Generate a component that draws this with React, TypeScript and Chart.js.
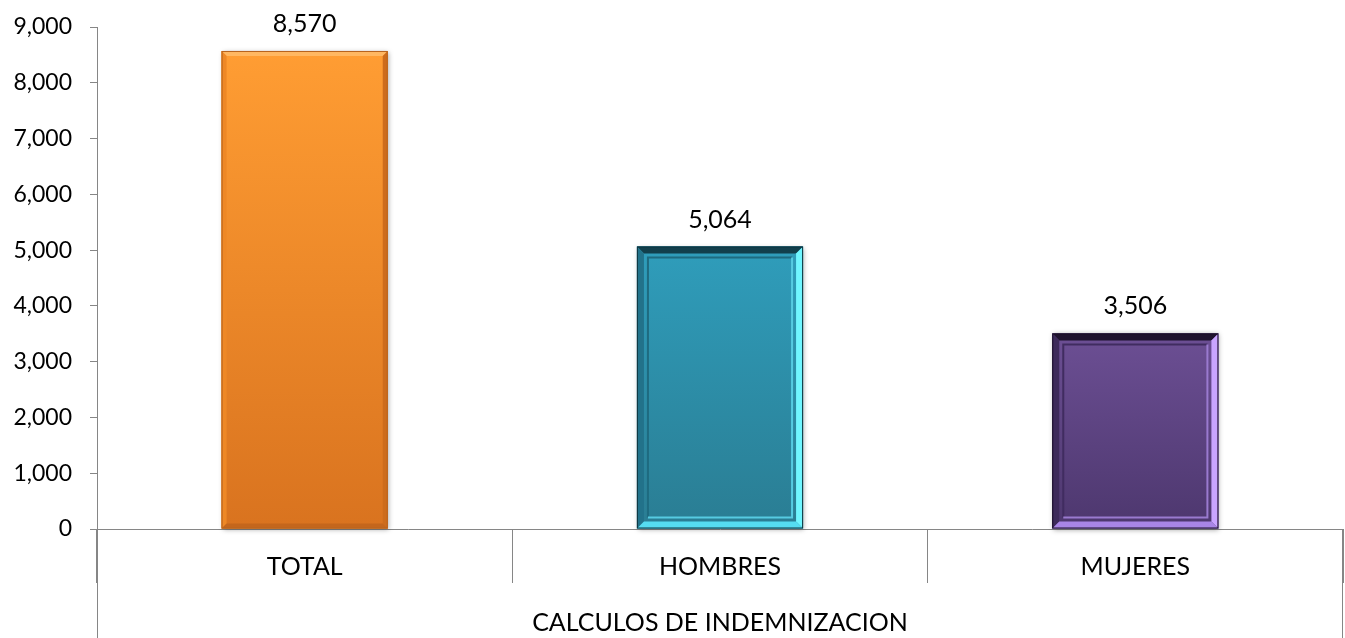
import React, { useEffect, useRef } from "react";
import { Chart, registerables } from "chart.js";

Chart.register(...registerables);

const categories = ["TOTAL", "HOMBRES", "MUJERES"];
const values = [8570, 5064, 3506];
const groupLabel = "CALCULOS DE INDEMNIZACION";
const yMin = 0;
const yMax = 9000;
const yStep = 1000;

type BarStyle = {
  top: string; bottom: string; bevTop: string; bevLeft: string; bevRight: string; bevBottom: string;
  frameTL: string | null; frameBR: string | null; outline: string; bev: number;
};

const barStyles: BarStyle[] = [
  { top: "#FF9D33", bottom: "#D9731F", bevTop: "#FFB761", bevLeft: "#EE8826", bevRight: "#CD6C1C", bevBottom: "#C4661C", frameTL: null, frameBR: null, outline: "#B8641E", bev: 5 },
  { top: "#2F9DBB", bottom: "#2A7D93", bevTop: "#123F4C", bevLeft: "#22728A", bevRight: "#70F6FF", bevBottom: "#55DCF1", frameTL: "#1E6B80", frameBR: "#56CBE2", outline: "#0E3540", bev: 7 },
  { top: "#6C4F94", bottom: "#4D376E", bevTop: "#1F132E", bevLeft: "#3D2A5A", bevRight: "#C9A4FF", bevBottom: "#A985E6", frameTL: "#402C60", frameBR: "#9A7ACF", outline: "#1B1028", bev: 7 },
];

const FONT = "Lato, 'Noto Sans', sans-serif";

function poly(ctx: CanvasRenderingContext2D, pts: number[][], color: string) {
  ctx.beginPath();
  ctx.moveTo(pts[0][0], pts[0][1]);
  for (let i = 1; i < pts.length; i++) ctx.lineTo(pts[i][0], pts[i][1]);
  ctx.closePath();
  ctx.fillStyle = color;
  ctx.fill();
}

const decorPlugin = {
  id: "decor",
  beforeDatasetsDraw(chart: any) {
    const ctx = chart.ctx as CanvasRenderingContext2D;
    const meta = chart.getDatasetMeta(0);
    meta.data.forEach((el: any) => {
      const { x, y, base, width } = el.getProps(["x", "y", "base", "width"], true);
      ctx.save();
      ctx.shadowColor = "rgba(0,0,0,0.35)";
      ctx.shadowBlur = 5;
      ctx.shadowOffsetX = 1;
      ctx.shadowOffsetY = 1;
      ctx.fillStyle = "#888";
      ctx.fillRect(x - width / 2, y, width, base - y);
      ctx.restore();
    });
  },
  afterDatasetsDraw(chart: any) {
    const ctx = chart.ctx as CanvasRenderingContext2D;
    const meta = chart.getDatasetMeta(0);
    meta.data.forEach((el: any, i: number) => {
      const s = barStyles[i];
      const { x, y, base, width } = el.getProps(["x", "y", "base", "width"], true);
      const l = x - width / 2, r = x + width / 2, t = y, b = base;
      ctx.save();
      const g = ctx.createLinearGradient(0, t, 0, b);
      g.addColorStop(0, s.top);
      g.addColorStop(1, s.bottom);
      ctx.fillStyle = g;
      ctx.fillRect(l, t, r - l, b - t);
      const v = s.bev;
      poly(ctx, [[l, t], [r, t], [r - v, t + v], [l + v, t + v]], s.bevTop);
      poly(ctx, [[l, t], [l + v, t + v], [l + v, b - v], [l, b]], s.bevLeft);
      poly(ctx, [[r, t], [r, b], [r - v, b - v], [r - v, t + v]], s.bevRight);
      poly(ctx, [[l, b], [r, b], [r - v, b - v], [l + v, b - v]], s.bevBottom);
      if (s.frameTL && s.frameBR) {
        const k = 11;
        ctx.lineWidth = 2;
        ctx.strokeStyle = s.frameTL;
        ctx.beginPath();
        ctx.moveTo(l + k, b - k);
        ctx.lineTo(l + k, t + k);
        ctx.lineTo(r - k, t + k);
        ctx.stroke();
        ctx.strokeStyle = s.frameBR;
        ctx.beginPath();
        ctx.moveTo(r - k, t + k);
        ctx.lineTo(r - k, b - k);
        ctx.lineTo(l + k, b - k);
        ctx.stroke();
      }
      ctx.lineWidth = 1;
      ctx.strokeStyle = s.outline;
      ctx.strokeRect(l + 0.5, t + 0.5, r - l - 1, b - t - 1);
      ctx.fillStyle = "#000";
      ctx.font = `25px ${FONT}`;
      ctx.textAlign = "center";
      ctx.textBaseline = "alphabetic";
      ctx.fillText(values[i].toLocaleString("en-US"), x, t - 19);
      ctx.restore();
    });
  },
  afterDraw(chart: any) {
    const ctx = chart.ctx as CanvasRenderingContext2D;
    const area = chart.chartArea;
    const h = chart.height;
    ctx.save();
    ctx.strokeStyle = "#868686";
    ctx.lineWidth = 1;
    ctx.beginPath();
    ctx.moveTo(Math.round(area.left) + 0.5, area.bottom);
    ctx.lineTo(Math.round(area.left) + 0.5, h);
    ctx.moveTo(Math.round(area.right) - 0.5, area.bottom);
    ctx.lineTo(Math.round(area.right) - 0.5, h);
    ctx.stroke();
    ctx.fillStyle = "#000";
    ctx.font = `25px ${FONT}`;
    ctx.textAlign = "center";
    ctx.textBaseline = "middle";
    ctx.fillText(groupLabel, (area.left + area.right) / 2, 623);
    ctx.restore();
  },
};

export default function App() {
  const ref = useRef<HTMLCanvasElement | null>(null);
  useEffect(() => {
    document.body.style.margin = "0";
    if (!ref.current) return;
    const chart = new Chart(ref.current, {
      type: "bar",
      data: {
        labels: categories,
        datasets: [
          {
            data: values,
            backgroundColor: barStyles.map((s) => s.top),
            borderWidth: 0,
            barPercentage: 0.4,
            categoryPercentage: 1,
          },
        ],
      },
      options: {
        animation: false,
        responsive: true,
        maintainAspectRatio: false,
        layout: { padding: { top: 27, right: 2, left: 0, bottom: 0 } },
        plugins: { legend: { display: false }, tooltip: { enabled: false }, title: { display: false } },
        scales: {
          x: {
            offset: true,
            grid: { offset: true, drawOnChartArea: false, drawTicks: true, tickLength: 54, color: "#868686" },
            border: { display: true, color: "#868686" },
            ticks: { color: "#000", font: { family: FONT, size: 25 }, padding: -31, maxRotation: 0 },
            afterFit: (scale: any) => { scale.height = 109; },
          },
          y: {
            min: yMin,
            max: yMax,
            grid: { drawOnChartArea: false, drawTicks: true, tickLength: 7, color: "#868686" },
            border: { display: true, color: "#868686" },
            ticks: {
              stepSize: yStep,
              color: "#000",
              font: { family: FONT, size: 23 },
              padding: 18,
              callback: (v: any) => Number(v).toLocaleString("en-US"),
            },
            afterFit: (scale: any) => {
              scale.width = 97;
              scale.paddingTop = 0;
              scale.paddingBottom = 0;
            },
          },
        },
      },
      plugins: [decorPlugin],
    });
    (document as any).fonts?.load?.(`25px Lato`).then(() => chart.update()).catch(() => {});
    return () => chart.destroy();
  }, []);
  return (
    <div style={{ position: "absolute", left: 0, top: 0, width: 1345, height: 638 }}>
      <canvas ref={ref} />
    </div>
  );
}
